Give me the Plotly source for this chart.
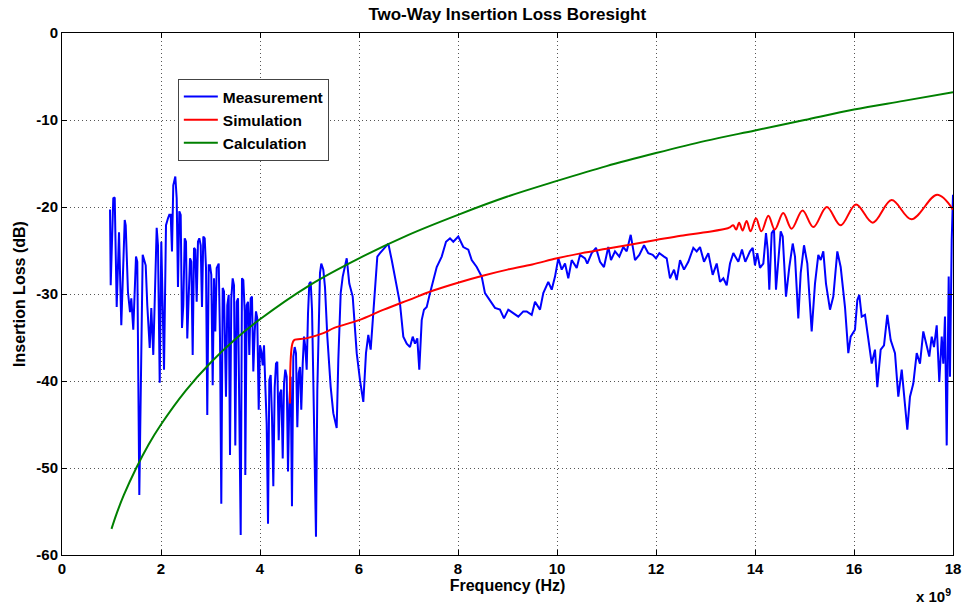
import plotly.graph_objects as go

# ---- Measurement (frequency in GHz, insertion loss in dB) ----
meas_f = [0.97, 0.984, 1.036, 1.065, 1.105, 1.152, 1.198, 1.267, 1.287, 1.333, 1.374, 1.400, 1.440,
          1.495, 1.521, 1.562, 1.630, 1.691, 1.723, 1.772, 1.804, 1.844, 1.913, 1.939, 1.974, 2.006,
          2.061, 2.101, 2.141, 2.168, 2.196, 2.222, 2.248, 2.289, 2.317, 2.343, 2.370, 2.398, 2.424,
          2.451, 2.479, 2.505, 2.531, 2.560, 2.586, 2.612, 2.640, 2.667, 2.693, 2.721, 2.747, 2.774,
          2.802, 2.828, 2.855, 2.883, 2.909, 2.935, 2.964, 2.990, 3.016, 3.044, 3.071, 3.097, 3.125,
          3.166, 3.192, 3.218, 3.246, 3.273, 3.299, 3.313, 3.339, 3.368, 3.394, 3.420, 3.448, 3.475,
          3.501, 3.529, 3.556, 3.582, 3.610, 3.636, 3.663, 3.691, 3.703, 3.731, 3.758, 3.784, 3.812,
          3.838, 3.865, 3.893, 3.919, 3.945, 3.974, 4.000, 4.026, 4.055, 4.081, 4.107, 4.135, 4.162,
          4.188, 4.216, 4.242, 4.269, 4.297, 4.323, 4.349, 4.378, 4.404, 4.430, 4.459, 4.485, 4.511,
          4.539, 4.566, 4.592, 4.620, 4.646, 4.673, 4.701, 4.727, 4.754, 4.782, 4.808, 4.834, 4.863,
          4.889, 4.915, 4.943, 4.970, 4.996, 5.024, 5.051, 5.077, 5.105, 5.131, 5.158, 5.186, 5.212,
          5.238, 5.279, 5.313, 5.360, 5.428, 5.481, 5.549, 5.582, 5.630, 5.671, 5.752, 5.804, 5.873,
          5.954, 6.020, 6.087, 6.141, 6.188, 6.236, 6.289, 6.370, 6.424, 6.525, 6.592, 6.661, 6.762,
          6.828, 6.895, 6.964, 7.030, 7.085, 7.131, 7.178, 7.218, 7.267, 7.313, 7.368, 7.434, 7.501,
          7.570, 7.671, 7.758, 7.838, 7.905, 8.006, 8.107, 8.208, 8.277, 8.378, 8.479, 8.545, 8.646,
          8.747, 8.848, 8.929, 9.016, 9.117, 9.218, 9.319, 9.388, 9.489, 9.556, 9.657, 9.723, 9.824,
          9.893, 9.960, 10.026, 10.095, 10.162, 10.228, 10.297, 10.398, 10.465, 10.566, 10.612, 10.701,
          10.788, 10.869, 10.949, 11.036, 11.091, 11.172, 11.259, 11.339, 11.408, 11.489, 11.576,
          11.663, 11.758, 11.844, 11.933, 12.000, 12.067, 12.162, 12.216, 12.283, 12.364, 12.418,
          12.485, 12.566, 12.653, 12.754, 12.822, 12.889, 12.970, 13.057, 13.145, 13.226, 13.293,
          13.360, 13.428, 13.495, 13.562, 13.663, 13.737, 13.804, 13.899, 13.954, 14.000, 14.046,
          14.101, 14.168, 14.222, 14.257, 14.289, 14.337, 14.384, 14.424, 14.471, 14.519, 14.560,
          14.626, 14.693, 14.762, 14.808, 14.875, 14.923, 14.990, 15.057, 15.145, 15.212, 15.279,
          15.327, 15.380, 15.434, 15.515, 15.582, 15.663, 15.731, 15.818, 15.885, 15.933, 16.020,
          16.067, 16.107, 16.156, 16.222, 16.289, 16.358, 16.424, 16.471, 16.539, 16.606, 16.673,
          16.741, 16.828, 16.895, 16.964, 17.010, 17.077, 17.131, 17.198, 17.267, 17.333, 17.400,
          17.455, 17.521, 17.570, 17.616, 17.671, 17.723, 17.772, 17.804, 17.838, 17.873, 17.913,
          17.939, 17.974, 18.000]
meas_db = [-20.3, -29.0, -19.0, -18.9, -31.5, -22.9, -33.6, -21.5, -22.1, -29.8, -32.1, -30.5, -34.1,
           -25.7, -26.3, -53.1, -25.5, -26.7, -31.3, -36.2, -31.6, -37.0, -22.4, -24.4, -40.2, -24.0,
           -38.7, -22.1, -21.3, -20.9, -20.9, -25.1, -17.5, -16.5, -19.0, -29.2, -20.5, -20.9, -33.9,
           -31.3, -23.6, -24.0, -35.1, -30.9, -25.9, -26.3, -37.0, -24.7, -24.9, -30.9, -24.0, -23.6,
           -24.4, -31.5, -23.4, -23.6, -27.0, -43.9, -26.7, -26.7, -27.8, -40.5, -28.2, -34.3, -27.0,
           -26.5, -35.1, -54.1, -29.3, -29.7, -36.6, -41.8, -31.3, -30.1, -48.5, -30.5, -28.2, -29.0,
           -47.4, -30.9, -30.5, -47.7, -57.7, -28.2, -28.4, -32.0, -50.8, -31.3, -30.9, -37.0, -30.5,
           -30.3, -38.9, -34.3, -32.0, -32.8, -43.3, -35.9, -36.6, -38.2, -35.9, -40.5, -44.9, -56.4,
           -39.9, -39.3, -44.1, -52.1, -40.7, -38.0, -37.8, -46.8, -41.4, -41.0, -48.9, -40.3, -38.7,
           -39.5, -50.4, -42.6, -39.5, -54.4, -37.2, -36.1, -36.8, -45.3, -39.1, -38.4, -43.3, -38.0,
           -34.9, -36.1, -38.7, -32.2, -28.8, -28.6, -31.8, -39.9, -48.7, -57.9, -41.0, -34.1, -27.6,
           -26.5, -27.2, -29.2, -34.9, -40.7, -43.7, -45.4, -37.6, -29.9, -28.0, -25.9, -28.8, -30.3,
           -36.8, -39.9, -42.4, -36.8, -34.7, -36.4, -32.2, -25.7, -25.3, -24.6, -24.2, -26.1, -29.2,
           -31.1, -34.9, -35.7, -36.1, -34.9, -35.7, -35.1, -38.7, -33.0, -31.8, -31.5, -29.9, -28.4,
           -26.9, -25.7, -24.0, -23.6, -24.0, -23.4, -24.6, -24.9, -26.1, -26.9, -28.0, -29.9, -30.7,
           -31.6, -31.8, -32.8, -31.8, -32.2, -32.6, -32.0, -32.0, -32.4, -30.9, -31.8, -29.9, -28.6,
           -29.5, -28.0, -25.9, -27.2, -26.5, -28.2, -26.1, -27.0, -25.5, -25.9, -26.5, -25.3,
           -24.7, -26.3, -26.9, -24.6, -26.1, -25.1, -25.7, -24.6, -25.1, -23.2, -26.1,
           -25.5, -24.4, -25.3, -25.5, -25.9, -25.3, -25.7, -25.9, -28.2, -27.2, -28.4,
           -26.1, -27.2, -26.3, -24.7, -25.1, -24.6, -26.3, -25.3, -27.8, -26.5, -28.6,
           -28.2, -29.0, -26.5, -25.3, -26.3, -24.9, -26.3, -25.1, -24.7, -26.7, -25.3,
           -27.0, -26.5, -23.0, -24.9, -29.5, -23.0, -22.6, -29.5, -25.7, -22.8, -23.4,
           -30.3, -26.9, -24.2, -25.7, -32.8, -27.6, -24.4, -26.5, -34.3, -28.8, -25.5,
           -26.1, -25.1, -28.8, -31.8, -30.3, -25.1, -26.9, -31.5, -36.8, -34.9, -34.1,
           -30.7, -30.1, -32.6, -32.4, -34.9, -38.0, -36.4, -40.7, -36.4, -35.9, -32.4,
           -35.3, -36.8, -41.8, -38.7, -41.4, -45.6, -41.8, -40.3, -36.8, -38.0, -34.3,
           -35.7, -37.2, -34.9, -36.1, -33.6, -40.1, -34.9, -38.0, -32.6, -47.4, -28.0,
           -39.5, -23.8, -18.6]

# ---- Simulation ----
sim_f = [4.606, 4.62, 4.65, 4.69, 4.93, 5.28, 5.5, 6.0, 6.5, 7.0, 7.5, 8.0, 8.5, 9.0, 9.5, 10.0,
         10.5, 11.0, 11.5, 12.0, 12.5, 13.0, 13.45, 13.50, 13.56, 13.62, 13.68, 13.75, 13.83, 13.91,
         14.02, 14.13, 14.27, 14.40, 14.57, 14.74, 14.96, 15.18, 15.45, 15.73, 16.04, 16.38, 16.76,
         17.16, 17.68, 18.00]
sim_db = [-42.6, -37.5, -35.8, -35.3, -35.1, -34.5, -33.9, -33.0, -31.8, -30.7, -29.6, -28.7, -27.9,
          -27.2, -26.6, -25.9, -25.3, -24.8, -24.3, -23.8, -23.3, -22.9, -22.45, -22.3, -22.1, -22.6,
          -21.8, -22.7, -21.6, -22.8, -21.3, -22.8, -21.0, -22.6, -20.7, -22.5, -20.4, -22.3, -20.0,
          -22.1, -19.7, -21.8, -19.2, -21.4, -18.6, -20.3]

# ---- Calculation ----
calc_f = [1.0, 1.1, 1.25, 1.5, 1.75, 2.0, 2.5, 3.0, 3.5, 4.0, 5.0, 6.0, 7.0, 8.0, 9.0, 10.0,
          11.0, 12.0, 13.0, 14.0, 15.0, 16.0, 17.0, 18.0]
calc_db = [-57.0, -55.3, -53.1, -50.0, -47.3, -45.0, -41.1, -37.9, -35.2, -32.9, -29.0, -25.9,
           -23.2, -20.9, -18.8, -17.0, -15.3, -13.8, -12.4, -11.2, -10.0, -8.8, -7.8, -6.8]

x_ticks = [0, 2, 4, 6, 8, 10, 12, 14, 16, 18]
y_ticks = [0, -10, -20, -30, -40, -50, -60]
y_tick_text = ["0", "-10", "-20", "-30", "-40", "-50", "-60"]

FONT = "Liberation Sans, Arial, sans-serif"

fig = go.Figure()
fig.add_trace(go.Scatter(x=meas_f, y=meas_db, mode="lines", name="Measurement",
                         line=dict(color="#0000FF", width=2)))
fig.add_trace(go.Scatter(x=sim_f, y=sim_db, mode="lines", name="Simulation",
                         line=dict(color="#FF0000", width=2, shape="spline", smoothing=1.0)))
fig.add_trace(go.Scatter(x=calc_f, y=calc_db, mode="lines", name="Calculation",
                         line=dict(color="#008000", width=2, shape="spline")))

axis_common = dict(
    showline=True, linecolor="black", linewidth=1, mirror="ticks",
    ticks="inside", ticklen=5, tickcolor="black",
    showgrid=True, gridcolor="#555555", gridwidth=1, griddash="1px,3px",
    zeroline=False, automargin=False,
    tickfont=dict(family=FONT, size=15, color="black", weight="bold"),
)

fig.update_layout(
    width=968, height=606,
    margin=dict(l=62, r=15, t=33, b=51),
    paper_bgcolor="white", plot_bgcolor="white",
    title=dict(text="Two-Way Insertion Loss Boresight", x=0.524, xanchor="center",
               yref="container", y=0.976, yanchor="middle",
               font=dict(family=FONT, size=17, color="black", weight="bold")),
    xaxis=dict(range=[0, 18], tickvals=x_ticks,
               title=dict(text="Frequency (Hz)", standoff=3,
                          font=dict(family=FONT, size=16, color="black", weight="bold")),
               **axis_common),
    yaxis=dict(range=[-60, 0], tickvals=y_ticks, ticktext=y_tick_text,
               title=dict(text="Insertion Loss (dB)", standoff=6,
                          font=dict(family=FONT, size=16, color="black", weight="bold")),
               **axis_common),
    legend=dict(x=0.13, y=0.912, xanchor="left", yanchor="top",
                bgcolor="white", bordercolor="#444444", borderwidth=1,
                font=dict(family=FONT, size=15.5, color="black", weight="bold"),
                itemwidth=34, tracegroupgap=0),
    showlegend=True,
    annotations=[dict(text="x 10<sup>9</sup>", xref="paper", yref="paper",
                      x=1.0, y=-0.078, xanchor="right", yanchor="middle", showarrow=False,
                      font=dict(family=FONT, size=15, color="black", weight="bold"))],
)

fig.write_html("out.html")
